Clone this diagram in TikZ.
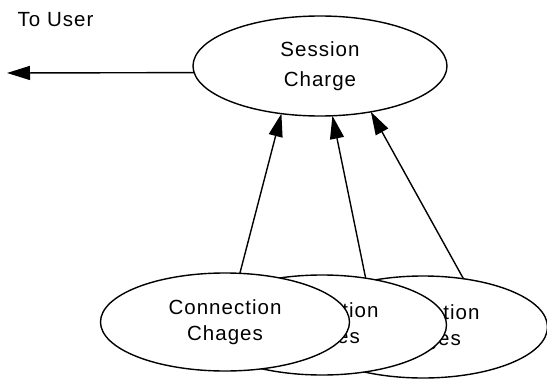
\documentclass[tikz,border=0pt]{standalone}
\usepackage{fontspec}
\setmainfont[LetterSpace=5]{Liberation Sans}
\usetikzlibrary{shapes.geometric,arrows.meta}
\begin{document}
\begin{tikzpicture}[x=1pt,y=-1pt,
  line width=1.4pt,
  bubble/.style={ellipse,draw,fill=white,inner sep=0pt,outer sep=0pt,align=center},
  topbubble/.style={bubble,minimum width=254pt,minimum height=100pt,
    font=\fontsize{20.5}{30}\selectfont},
  lowbubble/.style={bubble,minimum width=249pt,minimum height=98pt,
    font=\fontsize{20.5}{26.5}\selectfont},
  flow/.style={-{Triangle[length=23pt,width=14pt]}},
  label/.style={font=\fontsize{20.5}{24}\selectfont,inner sep=0pt,anchor=base west}]
  \useasboundingbox (0,0) rectangle (547,380);
  \fill[white] (0,0) rectangle (547,380);

  % central process
  \node[topbubble] (session) at (320,66) {Session\\Charge};

  % stacked connection charge processes, back to front
  \node[lowbubble,minimum height=102pt] (conn3) at (423,327) {Connection\\Chages};
  \node[lowbubble,minimum height=100pt] (conn2) at (322,325) {Connection\\Chages};
  \node[lowbubble] (conn1) at (225,322) {Connection\\Chages};

  % output to the user
  \node[label] (touser) at (17,27) {To User};
  \coordinate (user) at (7,73);
  \draw[flow] (session.183) -- (user);

  % charges flowing up into the session
  \draw[flow] (conn1.73) -- (session.231);
  \draw[flow] (conn2.47) -- (session.284);
  \draw[flow] (conn3.50) -- (session.318);
\end{tikzpicture}
\end{document}
